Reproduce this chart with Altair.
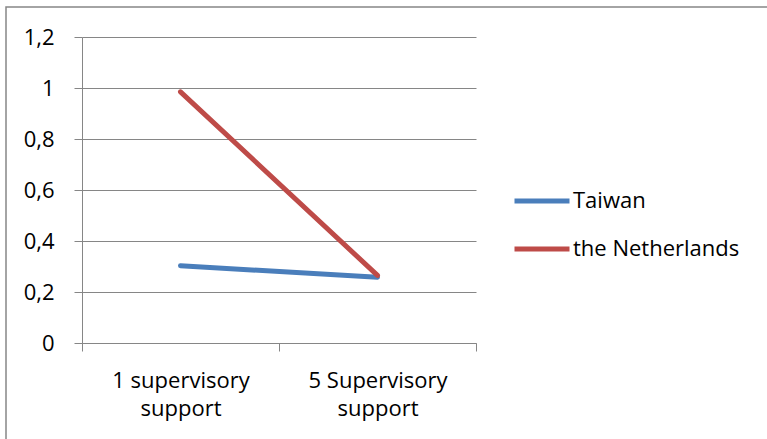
import altair as alt
import pandas as pd

categories = ["1 supervisory support", "5 Supervisory support"]
taiwan = [0.303, 0.258]
netherlands = [0.985, 0.265]
series_names = ["Taiwan", "the Netherlands"]
colors = ["#4A7EBB", "#BE4B48"]
y_ticks = [0, 0.2, 0.4, 0.6, 0.8, 1.0, 1.2]

rows = []
for c, v in zip(categories, taiwan):
    rows.append({"cat": c, "series": series_names[0], "value": v})
for c, v in zip(categories, netherlands):
    rows.append({"cat": c, "series": series_names[1], "value": v})
df = pd.DataFrame(rows)

FONT = "Open Sans"
FS = 22
GRID = "#868686"

lines = alt.Chart(df).mark_line(strokeWidth=5, strokeCap="round", strokeJoin="round").encode(
    x=alt.X("cat:N", sort=categories, title=None,
            scale=alt.Scale(paddingInner=0, paddingOuter=0),
            axis=alt.Axis(labelAngle=0, tickBand="extent", tickSize=8, tickColor=GRID,
                          domainColor=GRID, labelFontSize=FS, labelFont=FONT, labelColor="#000000",
                          labelLineHeight=28, labelPadding=19, labelBaseline="top",
                          labelExpr="[substring(datum.label, 0, lastindexof(datum.label, ' ')), substring(datum.label, lastindexof(datum.label, ' ') + 1)]")),
    y=alt.Y("value:Q", title=None,
            scale=alt.Scale(domain=[0, 1.2], nice=False),
            axis=alt.Axis(values=y_ticks, grid=True, gridColor=GRID, tickColor=GRID, tickSize=8,
                          domainColor=GRID, labelFontSize=FS, labelFont=FONT, labelColor="#000000",
                          labelPadding=20,
                          labelExpr="replace(toString(round(datum.value * 10) / 10), '.', ',')")),
    color=alt.Color("series:N", sort=series_names,
                    scale=alt.Scale(domain=series_names, range=colors),
                    legend=alt.Legend(title=None, orient="none", legendX=430, legendY=134,
                                      symbolType="stroke", symbolSize=3025, symbolStrokeWidth=5,
                                      labelFontSize=FS, labelFont=FONT, labelColor="#000000",
                                      labelOffset=1, rowPadding=7, labelLimit=400)),
)

border = alt.Chart(alt.Data(values=[{}])).mark_rect(fill=None, stroke=GRID, strokeWidth=1.5).encode(
    x=alt.value(-76), y=alt.value(-30), x2=alt.value(800), y2=alt.value(500)
)

chart = alt.layer(border, lines).properties(
    width=394, height=306,
    autosize=alt.AutoSizeParams(type="none"),
    padding={"left": 82, "top": 37, "right": 291, "bottom": 96},
    background="#ffffff",
).configure_view(stroke=None)

chart.save("out.html", embed_options={"renderer": "svg", "actions": False})
